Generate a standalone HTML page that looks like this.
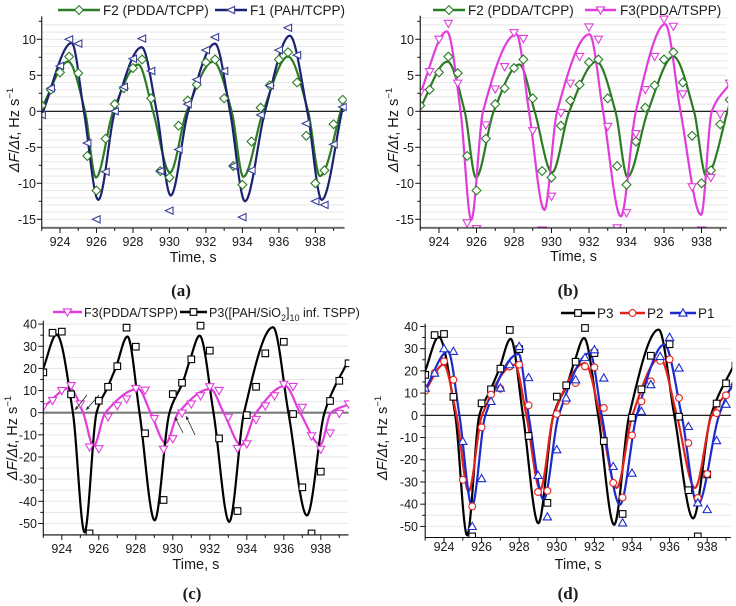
<!DOCTYPE html>
<html><head><meta charset="utf-8"><style>
html,body{margin:0;padding:0;background:#fff}
svg{display:block}
text{font-family:"Liberation Sans",Arial,sans-serif;fill:#1a1a1a}
</style></head><body>
<svg id="fig" width="736" height="606" viewBox="0 0 736 606" xmlns="http://www.w3.org/2000/svg">
<defs>
<clipPath id="clipA"><rect x="41.8" y="14" width="305" height="214"/></clipPath>
<clipPath id="clipB"><rect x="420.2" y="14" width="308" height="214"/></clipPath>
<clipPath id="clipC"><rect x="43.3" y="318" width="306" height="217"/></clipPath>
<clipPath id="clipD"><rect x="425.2" y="320" width="307" height="218"/></clipPath>
</defs>
<g id="root"></g>
</svg>
<script>
// ---- data ----
const tSamples = [923,923.5,924,924.5,925,925.5,926,926.5,927,927.5,928,928.5,929,929.5,930,930.5,931,931.5,932,932.5,933,933.5,934,934.5,935,935.5,936,936.5,937,937.5,938,938.5,939,939.5];
const f2Points = [0.8,3.0,5.4,7.6,5.3,-6.2,-11.0,-3.8,1.0,3.2,6.0,7.2,1.8,-8.3,-9.2,-2.0,1.5,3.7,6.8,7.2,1.8,-7.6,-10.2,-4.2,0.5,3.6,7.2,8.2,4.0,-3.4,-10.0,-8.2,-1.8,1.6];
const f1Points = [-0.5,3.2,6.3,10.0,9.4,-4.4,-15.0,-8.4,0.0,3.4,7.3,10.1,5.6,-8.3,-13.8,-5.3,1.0,4.4,8.5,10.3,5.6,-7.6,-14.7,-8.2,-0.5,3.6,8.5,11.6,7.8,-1.7,-12.5,-13.0,-4.6,0.6];
const f3Points = [2.6,5.5,10.0,12.2,3.9,-15.5,-16.3,-1.9,3.1,6.2,10.9,10.1,-2.7,-16.5,-11.8,-0.2,3.9,7.6,11.7,10.0,-2.1,-16.2,-14.1,-3.1,3.0,7.6,12.8,11.8,2.4,-10.5,-16.5,-9.2,-0.4,3.9];
const p3Points = [18.2,36.1,36.6,8.3,null,-54.5,5.4,11.7,21.0,38.4,29.8,-9.3,null,-39.4,8.4,13.5,24.1,39.3,28.0,-11.6,null,-44.4,-1.1,11.7,26.8,null,32.0,-0.6,-33.7,-54.5,-26.6,5.3,14.4,22.3];
const p2Points = [11,19,24.3,16,-29,-41,-5.4,9.3,12,22,22.8,4.5,-34.5,-34,0.6,6.5,14.5,22,21.6,3.3,-30.4,-37,-9,6.3,15.3,24.5,25.2,7.8,-12.5,-37.2,-26.4,1,9,13.8];
const p1Points = [12.3,19,30,28.8,-11.7,-50,-28.5,6.3,12.3,22.8,31,17,-27,-45.7,-15.5,7.8,16,26,29.5,16.8,-23,-48.4,-26,1.8,13.8,26.5,35.1,21.3,-5,-39.4,-42.4,-11.4,5,15.3];
// fitted-curve knots (time, value)
const f2CurveT = [923,924.45,925.37,925.97,926.92,928.29,929.1,930.03,930.95,932.4,933.41,934.05,935.14,936.5,937.6,938.25,939.5];
const f2CurveV = [0.5,6.9,0,-9.2,0,6.5,0,-8.5,0,6.9,0,-9.1,0,7.6,0,-9.0,1.0];
const f1CurveT = [923,924.64,925.31,926.1,927.01,928.48,929.3,930.07,931.03,932.5,933.32,934.14,935.24,936.6,937.56,938.35,939.5];
const f1CurveV = [-0.5,9.5,0,-12.3,0,8.9,0,-11.7,0,9.4,0,-12.5,0,10.5,0,-12.3,0.5];
const f3CurveT = [923,924.42,925.15,925.72,926.35,928.13,928.8,929.62,930.3,932.03,932.75,933.7,934.5,936.07,936.88,937.98,938.55,939.5];
const f3CurveV = [2.5,11.1,0,-15.1,0,10.7,0,-13.7,0,10.7,0,-14.6,0,12.1,0,-14.4,0,3.8];
const p3CurveT = [923,923.72,924.6,925.23,925.88,926.48,926.93,927.55,928.2,929.02,929.82,930.55,930.95,931.45,932.2,933.05,933.85,935.42,936.25,937.25,938.2,939.5];
const p3CurveV = [20,35.3,0,-54,0,11.6,20.6,34.4,0,-48.6,0,14,24.4,34.8,0,-49.3,0,38.6,0,-46.4,0,24];
const p2CurveT = [923,923.98,924.66,925.31,926.02,927.76,928.38,929.12,929.83,931.5,932.3,933.18,934.02,935.49,936.38,937.35,938.24,939.5];
const p2CurveV = [11,22.8,0,-34.2,0,22.8,0,-33.4,0,23.5,0,-32.7,0,25.8,0,-32.7,0,14.5];
const p1CurveT = [923,924.21,924.82,925.49,926.2,927.97,928.5,929.3,930.1,931.76,932.39,933.36,934.25,935.72,936.64,937.49,938.63,939.5];
const p1CurveV = [11.5,28.8,0,-40.9,0,27.6,0,-38,0,28,0,-40.2,0,31.8,0,-40.2,0,17];
const xTickLabels = [924,926,928,930,932,934,936,938];
const yTicksSmall = [10,5,0,-5,-10,-15];
const yTicksLarge = [40,30,20,10,0,-10,-20,-30,-40,-50];

// ---- helpers ----
const NS='http://www.w3.org/2000/svg';
const root=document.getElementById('root');
function el(tag,attrs,parent){const e=document.createElementNS(NS,tag);for(const k in attrs)e.setAttribute(k,attrs[k]);(parent||root).appendChild(e);return e;}
function monotone(xs,ys,n){
  const m=xs.length,d=[],s=[];
  for(let i=0;i<m-1;i++)d.push((ys[i+1]-ys[i])/(xs[i+1]-xs[i]));
  for(let i=0;i<m;i++){
    if(i===0)s.push(d[0]);else if(i===m-1)s.push(d[m-2]);
    else s.push(d[i-1]*d[i]<=0?0:(2*d[i-1]*d[i])/(d[i-1]+d[i]));
  }
  const out=[];
  for(let i=0;i<m-1;i++){const h=xs[i+1]-xs[i];
    for(let j=0;j<n;j++){const u=j/n,h00=2*u*u*u-3*u*u+1,h10=u*u*u-2*u*u+u,h01=-2*u*u*u+3*u*u,h11=u*u*u-u*u;
      out.push([xs[i]+u*h,h00*ys[i]+h10*h*s[i]+h01*ys[i+1]+h11*h*s[i+1]]);}}
  out.push([xs[m-1],ys[m-1]]);return out;
}
function marker(g,shape,cx,cy,color,name){
  const r=3.6;let e;
  if(shape==='diamond')e=el('polygon',{points:`${cx},${cy-r-0.8} ${cx+r+0.8},${cy} ${cx},${cy+r+0.8} ${cx-r-0.8},${cy}`},g);
  else if(shape==='left')e=el('polygon',{points:`${cx-r-0.5},${cy} ${cx+r},${cy-r} ${cx+r},${cy+r}`},g);
  else if(shape==='down')e=el('polygon',{points:`${cx-r-0.5},${cy-r+0.5} ${cx+r+0.5},${cy-r+0.5} ${cx},${cy+r+0.5}`},g);
  else if(shape==='up')e=el('polygon',{points:`${cx-r-0.5},${cy+r-0.5} ${cx+r+0.5},${cy+r-0.5} ${cx},${cy-r-0.5}`},g);
  else if(shape==='square')e=el('rect',{x:cx-3.3,y:cy-3.3,width:6.6,height:6.6},g);
  else e=el('circle',{cx:cx,cy:cy,r:3.4},g);
  e.setAttribute('fill','#fff');e.setAttribute('stroke',color);e.setAttribute('stroke-width','1.1');
  
  
  return e;
}

function panel(P){
  const g=el('g',{});
  
  
  const X=t=>P.x0+(t-P.t0)*P.xs, Y=v=>P.y0-v*P.ys;
  const left=X(P.tmin), right=X(P.tmax), top=Y(P.vmax), bot=Y(P.vmin);
  for(let v=Math.ceil(P.vmin/P.grid)*P.grid; v<=P.vmax; v+=P.grid){
    if(Math.abs(v)<1e-9)continue;
    const gl=el('line',{x1:left,x2:right,y1:Y(v),y2:Y(v),stroke:'#e6e6e6','stroke-width':1},g);
    
    
  }
  const zl=el('line',{x1:left,x2:right,y1:Y(0),y2:Y(0),stroke:P.zeroColor,'stroke-width':P.zeroW},g);
  
  
  const sg=el('g',{'clip-path':`url(#${P.clip})`},g);
  P.series.forEach(s=>{
    const pts=monotone(s.ct,s.cv,16);
    const d=pts.map((p,i)=>(i?'L':'M')+X(p[0]).toFixed(2)+' '+Y(p[1]).toFixed(2)).join(' ');
    const path=el('path',{d:d,fill:'none',stroke:s.color,'stroke-width':2.2,'stroke-linejoin':'round'},sg);
    
    
  });
  P.series.forEach(s=>{
    s.pts.forEach((v,i)=>{ if(v===null)return; marker(sg,s.shape,X(tSamples[i]),Y(v),s.mcolor||s.color,s.key+'-point'); });
  });
  const ax=el('path',{d:`M${left} ${top-2} L${left} ${bot} L${right} ${bot}`,fill:'none',stroke:'#111','stroke-width':1.1},g);
  
  
  for(let t=Math.ceil(P.tmin);t<=P.tmax;t++){
    const major=(t%2===0);
    el('line',{x1:X(t),x2:X(t),y1:bot,y2:bot+(major?5:3),stroke:'#111','stroke-width':1},g);
  }
  xTickLabels.forEach(t=>{
    const tx=el('text',{x:X(t),y:P.xlabY,'text-anchor':'middle','font-size':12.5},g);
    tx.textContent=t;
    
    
  });
  P.yticks.forEach((v,i)=>{
    el('line',{x1:left-5,x2:left,y1:Y(v),y2:Y(v),stroke:'#111','stroke-width':1},g);
    const mv=v+P.ystep/2; if(mv<P.vmax) el('line',{x1:left-3,x2:left,y1:Y(mv),y2:Y(mv),stroke:'#111','stroke-width':1},g);
    const ty=el('text',{x:P.ylabX,y:Y(v)+4.5,'text-anchor':'end','font-size':12.5},g);
    ty.textContent=v;
    
    
  });
  const xt=el('text',{x:(left+right)/2,y:P.xtitleY,'text-anchor':'middle','font-size':14.5},g);
  xt.textContent='Time, s';
  
  
  const yt=el('text',{transform:`translate(${P.ytitleX},${P.ytitleY}) rotate(-90)`,'text-anchor':'middle','font-size':14.5},g);
  yt.innerHTML='<tspan font-style="italic">ΔF</tspan>/<tspan font-style="italic">Δt</tspan>, Hz s<tspan font-size="9.5" dy="-6">−1</tspan>';
  
  
  const pl=el('text',{x:P.labX,y:P.labY,'text-anchor':'middle','font-size':17,'font-weight':'bold'},g);
  pl.setAttribute('style','font-family:"Liberation Serif",serif');
  pl.textContent=P.label;
  
  
  P.legend.forEach(L=>{
    const lg=el('g',{},g);
    
    
    el('line',{x1:L.x1,x2:L.x2,y1:P.legY,y2:P.legY,stroke:L.color,'stroke-width':2.4},lg);
    marker(lg,L.shape,(L.x1+L.x2)/2,P.legY,L.mcolor||L.color,'legend-marker');
    const lt=el('text',{x:L.tx,y:P.legY+5,'font-size':P.legFont||13.5},lg);
    lt.innerHTML=L.text;
  });
  return {X,Y,g};
}

const GREEN='#2b7c24', NAVY='#1c2170', MAG='#e03ddc', RED='#e2231c', BLUE='#1c2ccc';
const sF2={key:'f2',ct:f2CurveT,cv:f2CurveV,pts:f2Points,color:GREEN,shape:'diamond'};
const sF1={key:'f1',ct:f1CurveT,cv:f1CurveV,pts:f1Points,color:NAVY,mcolor:'#3a3f9a',shape:'left'};
const sF3={key:'f3',ct:f3CurveT,cv:f3CurveV,pts:f3Points,color:MAG,shape:'down'};
const sP3={key:'p3',ct:p3CurveT,cv:p3CurveV,pts:p3Points,color:'#000',shape:'square'};
const sP2={key:'p2',ct:p2CurveT,cv:p2CurveV,pts:p2Points,color:RED,shape:'circle'};
const sP1={key:'p1',ct:p1CurveT,cv:p1CurveV,pts:p1Points,color:BLUE,shape:'up'};

panel({name:'panel-a',clip:'clipA',x0:60,t0:924,xs:18.24,tmin:923,tmax:939.6,y0:111.3,ys:7.2,vmin:-16.2,vmax:12.9,
  grid:1,zeroColor:'#000',zeroW:1.1,yticks:yTicksSmall,ystep:5,ylabX:36,xlabY:246,xtitleY:262,ytitleX:19,ytitleY:130,
  labX:181,labY:296,label:'(a)',legY:10,series:[sF2,sF1],
  legend:[{x1:58,x2:100,color:GREEN,shape:'diamond',tx:103,text:'F2 (PDDA/TCPP)'},
          {x1:215,x2:247,color:NAVY,mcolor:'#3a3f9a',shape:'left',tx:250,text:'F1 (PAH/TCPP)'}]});
panel({name:'panel-b',clip:'clipB',x0:439,t0:924,xs:18.75,tmin:923,tmax:939.35,y0:111.3,ys:7.2,vmin:-16.2,vmax:13,
  grid:1,zeroColor:'#000',zeroW:1.1,yticks:yTicksSmall,ystep:5,ylabX:414,xlabY:246,xtitleY:261,ytitleX:398,ytitleY:130,
  labX:568,labY:296,label:'(b)',legY:10,series:[sF2,sF3],
  legend:[{x1:433,x2:465,color:GREEN,shape:'diamond',tx:468,text:'F2 (PDDA/TCPP)'},
          {x1:585,x2:616,color:MAG,shape:'down',tx:620,text:'F3(PDDA/TSPP)'}]});
const pc=panel({name:'panel-c',clip:'clipC',x0:43.3,t0:923,xs:18.5,tmin:923,tmax:939.5,y0:412.7,ys:2.215,vmin:-55.2,vmax:40.6,
  grid:5,zeroColor:'#7a7a7a',zeroW:2.2,yticks:yTicksLarge,ystep:10,ylabX:37,xlabY:553,xtitleY:569,ytitleX:17,ytitleY:438,
  labX:192,labY:599,label:'(c)',legY:312,legFont:12.5,series:[sF3,sP3],
  legend:[{x1:53,x2:82,color:MAG,shape:'down',tx:84,text:'F3(PDDA/TSPP)'},
          {x1:180,x2:207,color:'#000',shape:'square',tx:209,text:'P3([PAH/SiO<tspan font-size="9" dy="4">2</tspan><tspan dy="-4">]</tspan><tspan font-size="9" dy="4">10</tspan><tspan dy="-4"> inf. TSPP)</tspan>'}]});
[[87,395,75,410],[99,395,86,410],[183,433,175,417],[195,435,186,416]].forEach(a=>{
  const l=el('line',{x1:a[0],y1:a[1],x2:a[2],y2:a[3],stroke:'#222','stroke-width':0.8},pc.g);
  
  
  const ang=Math.atan2(a[3]-a[1],a[2]-a[0]);const L=4;
  el('polygon',{points:`${a[2]},${a[3]} ${a[2]-L*Math.cos(ang-0.4)},${a[3]-L*Math.sin(ang-0.4)} ${a[2]-L*Math.cos(ang+0.4)},${a[3]-L*Math.sin(ang+0.4)}`,fill:'#222'},pc.g);
});
panel({name:'panel-d',clip:'clipD',x0:444,t0:924,xs:18.8,tmin:923,tmax:939.27,y0:415.3,ys:2.222,vmin:-55,vmax:40.3,
  grid:5,zeroColor:'#000',zeroW:1.1,yticks:yTicksLarge,ystep:10,ylabX:418,xlabY:551,xtitleY:569,ytitleX:387,ytitleY:438,
  labX:568,labY:599,label:'(d)',legY:313,series:[sP3,sP2,sP1],
  legend:[{x1:561,x2:595,color:'#000',shape:'square',tx:597,text:'P3'},
          {x1:620,x2:645,color:RED,shape:'circle',tx:647,text:'P2'},
          {x1:670,x2:696,color:BLUE,shape:'up',tx:698,text:'P1'}]});
</script>
</body></html>
